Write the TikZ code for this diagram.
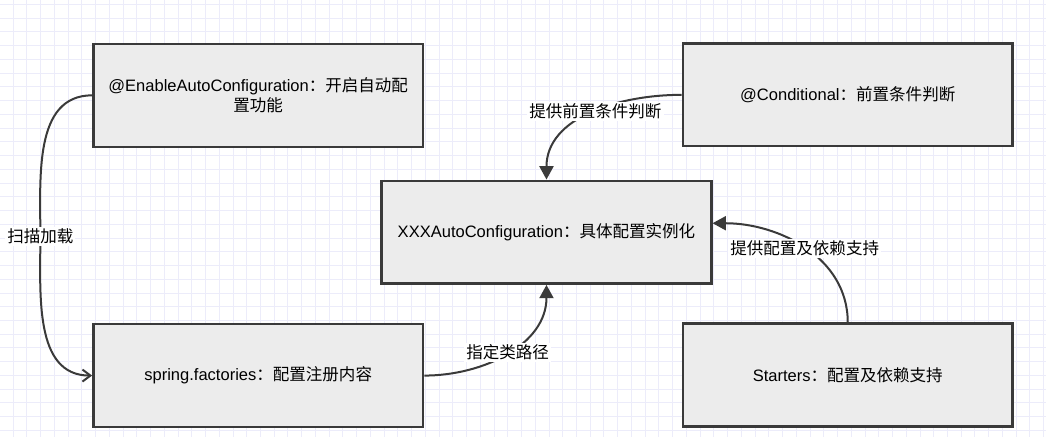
\documentclass[tikz,border=0pt]{standalone}
\usepackage{fontspec}
\setmainfont{Liberation Sans}
\newfontfamily\cjk{Noto Sans CJK SC}
\usetikzlibrary{arrows.meta, positioning}
\usepackage{xcolor}
\definecolor{gridblue}{RGB}{236,236,250}
\definecolor{boxfill}{RGB}{236,236,236}
\definecolor{edgegray}{RGB}{58,58,58}

\begin{document}
\begin{tikzpicture}[
    x=0.75pt, y=-0.75pt,
    font=\fontsize{12.4pt}{15pt}\selectfont,
    node distance=131.3pt,
    box/.style={draw=edgegray, fill=boxfill, line width=1.8pt, rectangle, minimum width=247.5pt, minimum height=77.25pt, align=center},
    arrow/.style={-{Triangle[length=10pt,width=10.5pt]}, line width=1.5pt, draw=edgegray},
    openarrow/.style={-{Straight Barb[length=6pt,width=9pt]}, line width=1.5pt, draw=edgegray},
    lbl/.style={fill=white, inner sep=1.5pt},
    gridline/.style={draw=gridblue, line width=0.6pt}
]

% Fundo quadriculado
\fill[white] (0,0) rectangle (1046,437);
\foreach \gx in {12.7,26.45,...,1046} \draw[gridline] (\gx,0) -- (\gx,437);
\foreach \gy in {4,17.75,...,437} \draw[gridline] (0,\gy) -- (1046,\gy);
\useasboundingbox (0,0) rectangle (1046,437);

% Caixas
\node[box] (enable) at (258,95) {@EnableAutoConfiguration{\cjk ：开启自动配}\\{\cjk 置功能}};
\node[box, below=of enable] (spring) {spring.factories{\cjk ：配置注册内容}};
\node[box] (xxx) at (546.5,232) {XXXAutoConfiguration{\cjk ：具体配置实例化}};
\node[box] (cond) at (848,94.5) {@Conditional{\cjk ：前置条件判断}};
\node[box, below=of cond] (starters) {Starters{\cjk ：配置及依赖支持}};

% Setas com rotulos
\draw[openarrow] (enable.west) to[out=180,in=90] node[pos=1,lbl] (scanlbl) {\cjk 扫描加载} (40,236) to[out=-90,in=180] (spring.west);
\draw[arrow] (cond.west) to[out=180,in=90] node[pos=0.47,lbl] (condlbl) {\cjk 提供前置条件判断} (xxx.north);
\draw[arrow] (spring.east) to[out=0,in=-90] node[lbl] (pathlbl) {\cjk 指定类路径} (xxx.south);
\draw[arrow] (starters.north) to[out=90,in=0] node[lbl] (deplbl) {\cjk 提供配置及依赖支持} ([yshift=6.75pt]xxx.east);

\end{tikzpicture}
\end{document}
